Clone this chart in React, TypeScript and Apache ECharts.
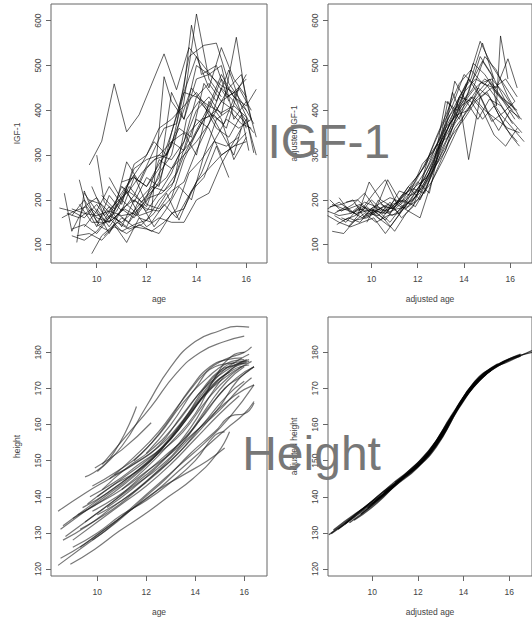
import React, { useEffect, useRef } from "react";
import * as echarts from "echarts";

const ageTicks = [10, 12, 14, 16];
const igfTicks = [100, 200, 300, 400, 500, 600];
const heightTicks = [120, 130, 140, 150, 160, 170, 180];

// IGF-1 by age, one array of [age, IGF-1] per subject
const igfByAge: number[][][] = [
  [[9.7,278],[10.2,331],[10.7,459],[11.2,352],[11.7,390],[12.7,526],[13.2,446],[13.7,540],[14.2,505],[14.7,470],[15.2,430],[15.7,445]],
  [[8.5,182],[9.0,175],[9.5,160],[10.0,190],[10.5,150],[11.0,175],[11.5,210],[12.0,185],[12.5,260],[13.0,300],[13.5,420],[14.0,615],[14.5,470],[15.0,430]],
  [[8.7,215],[9.0,130],[9.5,185],[10.0,205],[10.5,160],[11.0,230],[11.5,195],[12.0,250],[12.5,230],[13.0,350],[13.5,450],[13.8,590],[14.2,480],[14.8,500],[15.3,420]],
  [[9.2,105],[9.5,220],[10.0,150],[10.5,185],[11.0,140],[11.5,200],[12.0,175],[12.5,215],[13.0,260],[13.5,330],[14.0,400],[14.5,430],[15.0,390],[15.6,563],[16.0,420]],
  [[9.8,80],[10.2,120],[10.7,145],[11.2,105],[11.7,160],[12.2,150],[12.7,190],[13.2,160],[13.7,210],[14.2,260],[14.7,330],[15.2,380],[15.7,360],[16.2,380]],
  [[9.3,245],[9.6,180],[10.0,140],[10.5,210],[11.0,175],[11.5,250],[12.0,230],[12.5,270],[13.0,350],[13.5,440],[14.0,520],[14.5,450],[15.0,540],[15.5,470],[16.0,430]],
  [[10.0,300],[10.3,195],[10.7,175],[11.2,285],[11.7,240],[12.2,300],[12.7,360],[13.2,370],[13.7,520],[14.3,545],[14.8,550],[15.3,460],[15.8,420],[16.3,370]],
  [[9.0,120],[9.5,110],[10.0,130],[10.5,165],[11.0,150],[11.5,175],[12.0,140],[12.5,160],[13.0,150],[13.5,150],[14.0,200],[14.5,215],[15.0,280],[15.5,330],[16.0,380],[16.4,300]],
  [[9.5,215],[10.0,175],[10.5,230],[11.0,190],[11.5,280],[12.0,300],[12.5,360],[13.0,380],[13.5,410],[14.0,440],[14.5,400],[15.0,470],[15.5,430],[16.0,410],[16.4,447]],
  [[10.5,160],[11.0,200],[11.5,175],[12.0,210],[12.5,250],[13.0,440],[13.5,380],[14.0,470],[14.5,480],[15.0,500],[15.5,380],[16.0,420],[16.4,340]],
  [[8.8,170],[9.3,160],[9.8,180],[10.3,155],[10.8,200],[11.3,240],[11.8,280],[12.3,330],[12.8,300],[13.3,370],[13.8,450],[14.3,410],[14.8,360],[15.3,340],[15.8,390],[16.1,310]],
  [[9.0,165],[9.5,200],[10.0,160],[10.5,150],[11.0,210],[11.5,255],[12.0,190],[12.5,180],[13.0,220],[13.5,240],[14.0,310],[14.5,370],[15.0,420],[15.5,440],[16.0,470]],
  [[9.5,140],[10.0,175],[10.5,125],[11.0,180],[11.5,200],[12.0,180],[12.5,175],[13.0,205],[13.5,290],[14.0,350],[14.5,400],[15.0,350],[15.5,300],[15.8,360]],
  [[10.2,210],[10.7,180],[11.2,220],[11.7,165],[12.2,175],[12.7,475],[13.0,420],[13.5,380],[14.0,500],[14.5,480],[15.0,455],[15.5,440],[16.0,360]],
  [[9.0,180],[9.5,170],[10.0,165],[10.5,175],[11.0,165],[11.5,170],[12.0,200],[12.5,240],[13.0,330],[13.5,310],[14.0,380],[14.5,360],[15.0,300],[15.5,320],[16.0,350]],
  [[9.8,230],[10.3,165],[10.8,195],[11.3,220],[11.8,260],[12.3,290],[12.8,300],[13.3,360],[13.8,340],[14.3,460],[14.8,420],[15.3,490],[15.8,410],[16.1,375]],
  [[10.0,145],[10.5,130],[11.0,160],[11.5,140],[12.0,135],[12.5,125],[13.0,170],[13.5,180],[14.0,240],[14.5,270],[15.0,300],[15.5,320],[16.0,330]],
  [[9.3,190],[9.8,150],[10.3,150],[10.8,175],[11.3,230],[11.8,195],[12.3,225],[12.8,250],[13.3,300],[13.8,330],[14.3,380],[14.8,400],[15.3,450],[15.8,480],[16.2,380]],
  [[10.5,250],[11.0,200],[11.5,270],[12.0,290],[12.5,300],[13.0,290],[13.5,330],[14.0,430],[14.5,460],[15.0,420],[15.5,400],[16.0,370],[16.3,350]],
  [[9.0,135],[9.5,145],[10.0,125],[10.5,160],[11.0,130],[11.5,145],[12.0,155],[12.5,200],[13.0,230],[13.5,300],[14.0,355],[14.5,410],[15.0,395],[15.5,410],[16.0,385],[16.3,305]],
  [[10.8,170],[11.3,150],[11.8,190],[12.3,140],[12.8,180],[13.3,230],[13.8,200],[14.3,300],[14.8,380],[15.3,400],[15.8,370],[16.2,360]],
  [[9.7,200],[10.2,190],[10.7,160],[11.2,140],[11.7,200],[12.2,230],[12.7,220],[13.2,260],[13.7,350],[14.2,380],[14.7,390],[15.2,360],[15.7,450],[16.2,400]],
  [[11.0,240],[11.5,250],[12.0,230],[12.5,280],[13.0,320],[13.5,440],[14.0,430],[14.5,410],[15.0,480],[15.5,430],[16.0,400]],
  [[8.6,160],[9.1,175],[9.6,185],[10.1,145],[10.6,155],[11.1,180],[11.6,165],[12.1,205],[12.6,215],[13.1,240],[13.6,380],[14.1,420],[14.6,390],[15.1,370],[15.6,440],[16.0,480]],
  [[10.3,120],[10.8,150],[11.3,135],[11.8,145],[12.3,170],[12.8,215],[13.3,155],[13.8,220],[14.3,250],[14.8,320],[15.3,250]],
  [[9.2,120],[9.7,125],[10.2,110],[10.7,140],[11.2,125],[11.7,145],[12.2,130],[12.7,150],[13.2,180],[13.7,260],[14.2,290],[14.7,330],[15.2,320],[15.7,340]],
  [[10.0,180],[10.5,140],[11.0,180],[11.5,160],[12.0,205],[12.5,290],[13.0,270],[13.5,300],[14.0,330],[14.5,370],[15.0,450],[15.5,420],[16.0,375]],
  [[11.0,230],[11.5,210],[12.0,270],[12.5,300],[13.0,330],[13.5,350],[14.0,300],[14.5,420],[15.0,380],[15.5,290],[16.0,340]],
];

// IGF-1 by adjusted age
const igfByAdjustedAge: number[][][] = [
  [[8.1,180],[8.6,195],[9.1,175],[9.6,160],[10.1,185],[10.6,170],[11.1,195],[11.6,230],[12.1,260],[12.6,300],[13.1,350],[13.6,400],[14.1,460]],
  [[8.3,130],[8.8,125],[9.3,155],[9.8,160],[10.3,175],[10.8,150],[11.3,185],[11.8,200],[12.3,240],[12.8,290],[13.3,360],[13.8,430],[14.3,470],[14.8,550],[15.3,470]],
  [[8.2,200],[8.7,175],[9.2,190],[9.7,215],[10.2,180],[10.7,245],[11.2,200],[11.7,190],[12.2,230],[12.7,280],[13.2,420],[13.7,400],[14.2,440],[14.7,520],[15.2,480],[15.4,410],[15.58,566],[15.9,470]],
  [[8.4,170],[8.9,185],[9.4,165],[9.9,240],[10.4,200],[10.9,185],[11.4,210],[11.9,240],[12.4,290],[12.9,330],[13.4,390],[13.9,420],[14.4,505],[14.9,480],[15.4,440],[15.9,410],[16.4,380]],
  [[8.1,165],[8.6,150],[9.1,140],[9.6,150],[10.1,160],[10.6,125],[11.1,160],[11.6,195],[12.1,215],[12.6,265],[13.1,320],[13.6,370],[14.1,410],[14.6,450],[15.1,430],[15.6,390],[16.1,360],[16.6,330]],
  [[8.6,205],[9.1,170],[9.6,180],[10.1,215],[10.6,245],[11.1,190],[11.6,175],[12.1,160],[12.6,240],[13.1,300],[13.6,360],[14.1,395],[14.6,440],[15.1,470],[15.6,430],[16.1,400]],
  [[9.0,140],[9.5,170],[10.0,200],[10.5,175],[11.0,185],[11.5,215],[12.0,240],[12.5,215],[13.0,330],[13.5,440],[13.9,390],[14.2,290],[14.7,430],[15.2,450],[15.7,420],[16.2,380]],
  [[8.2,185],[8.7,190],[9.2,200],[9.7,160],[10.2,175],[10.7,190],[11.2,170],[11.7,220],[12.2,280],[12.7,310],[13.2,370],[13.7,420],[14.2,470],[14.7,554],[15.2,500],[15.7,460],[16.2,420]],
  [[8.8,155],[9.3,165],[9.8,185],[10.3,160],[10.8,140],[11.3,175],[11.8,210],[12.3,250],[12.8,305],[13.3,350],[13.8,395],[14.3,430],[14.8,400],[15.3,345],[15.8,320],[16.3,360]],
  [[8.5,175],[9.0,180],[9.5,190],[10.0,170],[10.5,185],[11.0,180],[11.5,200],[12.0,225],[12.5,260],[13.0,330],[13.5,380],[14.0,440],[14.5,470],[15.0,455],[15.5,420],[16.0,380],[16.5,350]],
  [[9.3,190],[9.8,170],[10.3,165],[10.8,195],[11.3,160],[11.8,185],[12.3,260],[12.8,320],[13.3,340],[13.8,430],[14.3,420],[14.8,380],[15.3,410],[15.8,360],[16.3,330]],
  [[8.3,190],[8.8,180],[9.3,170],[9.8,175],[10.3,190],[10.8,205],[11.3,195],[11.8,240],[12.3,275],[12.8,340],[13.3,400],[13.8,460],[14.3,490],[14.8,460],[15.3,450],[15.8,470],[16.3,430]],
  [[9.6,160],[10.1,175],[10.6,155],[11.1,190],[11.6,230],[12.1,200],[12.6,255],[13.1,330],[13.6,465],[14.1,420],[14.6,380],[15.1,425],[15.6,410],[16.1,370]],
  [[8.5,145],[9.0,160],[9.5,150],[10.0,180],[10.5,160],[11.0,130],[11.5,170],[12.0,200],[12.5,250],[13.0,300],[13.5,345],[14.0,380],[14.5,420],[15.0,440],[15.5,390],[16.0,345],[16.4,320]],
  [[10.0,180],[10.5,170],[11.0,200],[11.5,180],[12.0,215],[12.5,300],[13.0,360],[13.5,410],[14.0,480],[14.5,455],[15.0,400],[15.5,355],[16.0,400],[16.5,380]],
  [[8.9,195],[9.4,200],[9.9,175],[10.4,180],[10.9,165],[11.4,185],[11.9,230],[12.4,270],[12.9,320],[13.4,370],[13.9,410],[14.4,445],[14.9,470],[15.4,450],[15.9,515],[16.3,450]],
  [[8.1,175],[8.6,165],[9.1,170],[9.6,185],[10.1,175],[10.6,170],[11.1,180],[11.6,185],[12.1,205],[12.6,240],[13.1,290],[13.6,345],[14.1,400],[14.6,430],[15.1,460],[15.6,430],[16.1,410]],
  [[9.8,150],[10.3,200],[10.8,170],[11.3,210],[11.8,225],[12.3,215],[12.8,290],[13.3,420],[13.8,380],[14.3,460],[14.8,510],[15.3,470],[15.8,420],[16.3,400]],
  [[8.7,160],[9.2,150],[9.7,170],[10.2,150],[10.7,165],[11.2,170],[11.7,200],[12.2,240],[12.7,290],[13.2,360],[13.7,390],[14.2,400],[14.7,460],[15.2,470],[15.7,440],[16.2,400]],
  [[9.2,175],[9.7,195],[10.2,185],[10.7,175],[11.2,220],[11.7,210],[12.2,225],[12.7,270],[13.2,310],[13.7,395],[14.2,470],[14.7,430],[15.2,375],[15.7,395],[16.2,420]],
  [[10.4,190],[10.9,180],[11.4,200],[11.9,230],[12.4,250],[12.9,310],[13.4,370],[13.9,415],[14.4,450],[14.9,520],[15.4,490],[15.9,430],[16.4,385]],
  [[8.4,165],[8.9,150],[9.4,180],[9.9,175],[10.4,155],[10.9,190],[11.4,200],[11.9,185],[12.4,230],[12.9,290],[13.4,350],[13.9,410],[14.4,430],[14.9,400],[15.4,380],[15.9,360],[16.4,350]],
];

// Height by age
const heightByAge: number[][][] = [
  [[10.0,147],[11.0,154],[12.0,165],[13.0,176],[14.0,183],[15.0,186],[15.7,187.2],[16.2,187]],
  [[9.5,145.5],[10.5,150.5],[11.6,165]],
  [[9.9,148],[11.0,153],[12.2,160.5]],
  [[10.2,149],[11.2,157],[12.2,165],[13.2,174],[14.2,180],[15.2,183],[16.0,184.5]],
  [[8.4,136],[9.5,141],[10.5,145],[11.5,149],[12.5,154],[13.5,163],[14.5,171],[15.5,176],[16.1,178]],
  [[8.5,131],[9.5,136],[10.5,141],[11.5,146],[12.5,152],[13.5,158],[14.5,167],[15.5,174],[16.3,177.5]],
  [[8.6,132],[9.6,137],[10.6,142],[11.6,147],[12.6,153],[13.6,161],[14.6,170],[15.5,175],[16.2,176.5]],
  [[8.7,129],[9.7,134],[10.7,139],[11.7,145],[12.7,151],[13.7,157],[14.7,166],[15.7,173],[16.4,176]],
  [[8.4,121],[9.4,126],[10.4,131],[11.4,137],[12.4,143],[13.4,149],[14.4,155],[15.4,162],[16.4,171]],
  [[8.5,123],[9.5,127],[10.5,132],[11.5,137],[12.5,142],[13.5,146],[14.5,150],[15.2,153.5]],
  [[8.9,121.3],[9.9,125.5],[10.9,130.5],[11.9,135],[12.9,140],[13.9,145],[14.9,152],[15.4,158]],
  [[9.3,126],[10.3,131],[11.3,136],[12.3,141],[13.3,147],[14.3,153],[15.3,159],[16.0,163],[16.4,166.4]],
  [[9.0,128],[10.0,133],[11.0,138],[12.0,143],[13.0,149],[14.0,156],[15.0,163],[15.8,168]],
  [[9.2,135],[10.2,139],[11.2,144],[12.2,150],[13.2,158],[14.2,167],[15.2,173],[15.9,176]],
  [[9.4,137],[10.4,141],[11.4,146],[12.4,152],[13.4,160],[14.4,168],[15.4,175],[16.1,177]],
  [[9.6,138],[10.6,143],[11.6,147],[12.6,153],[13.6,162],[14.6,172],[15.4,176],[16.0,177]],
  [[9.8,136],[10.8,140],[11.8,145],[12.8,151],[13.8,159],[14.8,170],[15.6,176],[16.2,178]],
  [[10.0,140],[11.0,145],[12.0,150],[13.0,156],[14.0,165],[15.0,174],[15.8,178],[16.2,179.5]],
  [[9.5,133],[10.5,138],[11.5,143],[12.5,148],[13.5,155],[14.5,165],[15.3,172],[16.0,176]],
  [[10.2,142],[11.2,148],[12.2,153],[13.2,160],[14.2,169],[15.0,175],[15.7,176.5],[16.2,177.5]],
  [[9.0,134],[10.0,138],[11.0,142],[12.0,147],[13.0,152],[14.0,158],[15.0,164],[15.8,170],[16.3,173]],
  [[8.6,128],[9.6,132],[10.6,137],[11.6,142],[12.6,148],[13.6,155],[14.6,162],[15.6,168],[16.4,171]],
  [[9.8,143],[10.8,147],[11.8,152],[12.8,160],[13.8,170],[14.6,176],[15.3,178],[15.9,178.5]],
  [[10.5,145],[11.5,151],[12.5,158],[13.5,167],[14.5,175],[15.2,178],[16.0,180],[16.3,181.5]],
  [[11.0,142],[12.0,148],[13.0,155],[14.0,163],[14.8,173],[15.5,179],[16.0,180]],
  [[10.0,135],[11.0,139],[12.0,144],[13.0,150],[14.0,157],[15.0,165],[15.7,172],[16.4,176]],
  [[9.3,131],[10.3,135],[11.3,140],[12.3,146],[13.3,152],[14.3,160],[15.3,168],[16.0,172]],
  [[9.0,126],[10.0,130],[11.0,135],[12.0,139],[13.0,144],[14.0,150],[14.8,157],[15.2,158]],
  [[9.8,128],[10.8,133],[11.8,139],[12.8,145],[13.8,152],[14.8,158],[15.5,162.5],[16.0,163],[16.4,166]],
  [[10.4,137],[11.4,142],[12.4,148],[13.4,155],[14.4,163],[15.2,170],[15.8,173],[16.4,176]],
  [[11.5,150],[12.5,157],[13.5,166],[14.5,173],[15.3,177],[16.0,178]],
  [[10.7,146],[11.7,150],[12.7,155],[13.7,163],[14.7,172],[15.5,177],[16.1,177.5]],
  [[12.0,152],[13.0,160],[14.0,170],[14.8,176],[15.6,177]],
  [[9.7,140],[10.7,144],[11.7,149],[12.7,154],[13.7,162],[14.7,171],[15.4,174.5]],
];

// Height by adjusted age
const heightByAdjustedAge: number[][][] = [
  [[8.1,129.5],[9.0,133.8],[10.0,138.8],[11.0,144.2],[12.0,149.4],[13.0,157.2],[13.5,162.6]],
  [[8.3,130.8],[9.3,135.5],[10.3,139.5],[11.3,145.0],[12.3,150.5],[13.3,160.0],[14.0,167.0]],
  [[8.5,131.0],[9.5,136.0],[10.5,141.5],[11.5,146.0],[12.5,152.5],[13.5,162.5],[14.5,171.2]],
  [[9.0,132.8],[10.0,137.6],[11.0,143.0],[12.0,148.2],[13.0,156.0],[14.0,166.8],[15.0,174.0]],
  [[9.5,135.2],[10.5,140.5],[11.5,146.6],[12.5,152.8],[13.5,162.8],[14.5,171.8],[15.5,176.8]],
  [[10.0,138.0],[11.0,143.5],[12.0,149.0],[13.0,156.5],[14.0,167.6],[15.0,174.6],[16.0,178.0]],
  [[10.5,141.2],[11.5,146.2],[12.5,152.0],[13.5,162.0],[14.5,171.0],[15.5,176.2],[16.5,179.0]],
  [[11.0,144.0],[12.0,149.2],[13.0,157.0],[14.0,167.0],[15.0,174.5],[16.0,177.6],[17.0,180.5]],
  [[11.5,146.0],[12.5,151.8],[13.5,162.0],[14.5,172.0],[15.5,176.5],[16.5,179.5]],
  [[12.0,148.5],[13.0,156.2],[14.0,167.5],[15.0,174.0],[16.0,178.0],[17.0,180.0]],
  [[8.2,129.8],[9.2,134.3],[10.2,139.2],[11.2,144.8],[12.2,150.0],[13.2,158.8]],
  [[8.8,132.5],[9.8,137.8],[10.8,142.0],[11.8,147.8],[12.8,154.2],[13.8,165.2],[14.8,173.2]],
  [[9.2,133.5],[10.2,138.2],[11.2,144.4],[12.2,149.8],[13.2,159.0],[14.2,169.2],[15.2,175.0]],
  [[12.5,152.4],[13.5,162.4],[14.5,171.4],[15.5,176.6],[16.5,179.2]],
  [[9.8,136.8],[10.8,142.6],[11.8,147.2],[12.8,153.8],[13.8,164.6],[14.8,172.8],[15.8,177.2]],
];

const LABEL_COLOR = "#444";
const BOX_COLOR = "#666";
const FONT = "Liberation Sans";

function xAxisOf(gridIndex: number, name: string, min: number, max: number) {
  return {
    type: "value",
    gridIndex,
    min,
    max,
    name,
    nameLocation: "middle",
    nameGap: 31,
    nameTextStyle: { fontSize: 8.5, color: LABEL_COLOR, fontFamily: FONT },
    axisLine: { show: false },
    splitLine: { show: false },
    axisTick: { show: true, customValues: ageTicks, length: 5, lineStyle: { color: BOX_COLOR } },
    axisLabel: { customValues: ageTicks, fontSize: 8.5, color: LABEL_COLOR, fontFamily: FONT, margin: 11 },
  };
}

function yAxisOf(gridIndex: number, name: string, min: number, max: number, ticks: number[]) {
  return {
    type: "value",
    gridIndex,
    min,
    max,
    name,
    nameLocation: "middle",
    nameGap: 30,
    nameTextStyle: { fontSize: 8.5, color: LABEL_COLOR, fontFamily: FONT },
    axisLine: { show: false },
    splitLine: { show: false },
    axisTick: { show: true, customValues: ticks, length: 5, lineStyle: { color: BOX_COLOR } },
    axisLabel: { customValues: ticks, fontSize: 8.5, color: LABEL_COLOR, fontFamily: FONT, rotate: 90, margin: 9 },
  };
}

function linesOf(subjects: number[][][], idx: number, color: string, width: number, smooth: boolean) {
  return subjects.map((s) => ({
    type: "line",
    xAxisIndex: idx,
    yAxisIndex: idx,
    data: s,
    showSymbol: false,
    symbol: "none",
    smooth,
    silent: true,
    lineStyle: { color, width },
  }));
}

export default function App() {
  const ref = useRef<HTMLDivElement>(null);
  useEffect(() => {
    if (!ref.current) return;
    const chart = echarts.init(ref.current, null, { renderer: "svg" });
    const gridBase = { show: true, borderColor: BOX_COLOR, borderWidth: 1, backgroundColor: "transparent", containLabel: false };
    chart.setOption({
      animation: false,
      backgroundColor: "#fff",
      grid: [
        { ...gridBase, left: 51, top: 4, width: 216, height: 259 },
        { ...gridBase, left: 328, top: 4, width: 216, height: 259 },
        { ...gridBase, left: 51, top: 317, width: 216, height: 259 },
        { ...gridBase, left: 328, top: 317, width: 216, height: 259 },
      ],
      xAxis: [
        xAxisOf(0, "age", 8.165, 16.83),
        xAxisOf(1, "adjusted age", 8.12, 16.94),
        xAxisOf(2, "age", 8.11, 16.93),
        xAxisOf(3, "adjusted age", 8.06, 17.0),
      ],
      yAxis: [
        yAxisOf(0, "IGF-1", 59.2, 637.3, igfTicks),
        yAxisOf(1, "adjusted IGF-1", 59.2, 637.3, igfTicks),
        yAxisOf(2, "height", 118.06, 189.8, heightTicks),
        yAxisOf(3, "adjusted height", 118.06, 189.8, heightTicks),
      ],
      series: [
        ...linesOf(igfByAge, 0, "rgba(0,0,0,0.62)", 1, false),
        ...linesOf(igfByAdjustedAge, 1, "rgba(0,0,0,0.62)", 1, false),
        ...linesOf(heightByAge, 2, "rgba(30,30,30,0.6)", 1.2, true),
        ...linesOf(heightByAdjustedAge, 3, "rgba(0,0,0,0.7)", 1.4, true),
      ],
      graphic: [
        {
          type: "text",
          x: 267.4,
          y: 141,
          z: 100,
          style: { text: "IGF-1", font: `48px "${FONT}"`, fill: "#777", textAlign: "left", textVerticalAlign: "middle", verticalAlign: "middle" },
        },
        {
          type: "text",
          x: 242.2,
          y: 453.7,
          z: 100,
          style: { text: "Height", font: `48px "${FONT}"`, fill: "#777", textAlign: "left", textVerticalAlign: "middle", verticalAlign: "middle" },
        },
      ],
    });
    return () => chart.dispose();
  }, []);
  return (
    <div
      ref={ref}
      style={{ position: "absolute", left: 0, top: 0, width: 532, height: 618, background: "#fff" }}
    />
  );
}
